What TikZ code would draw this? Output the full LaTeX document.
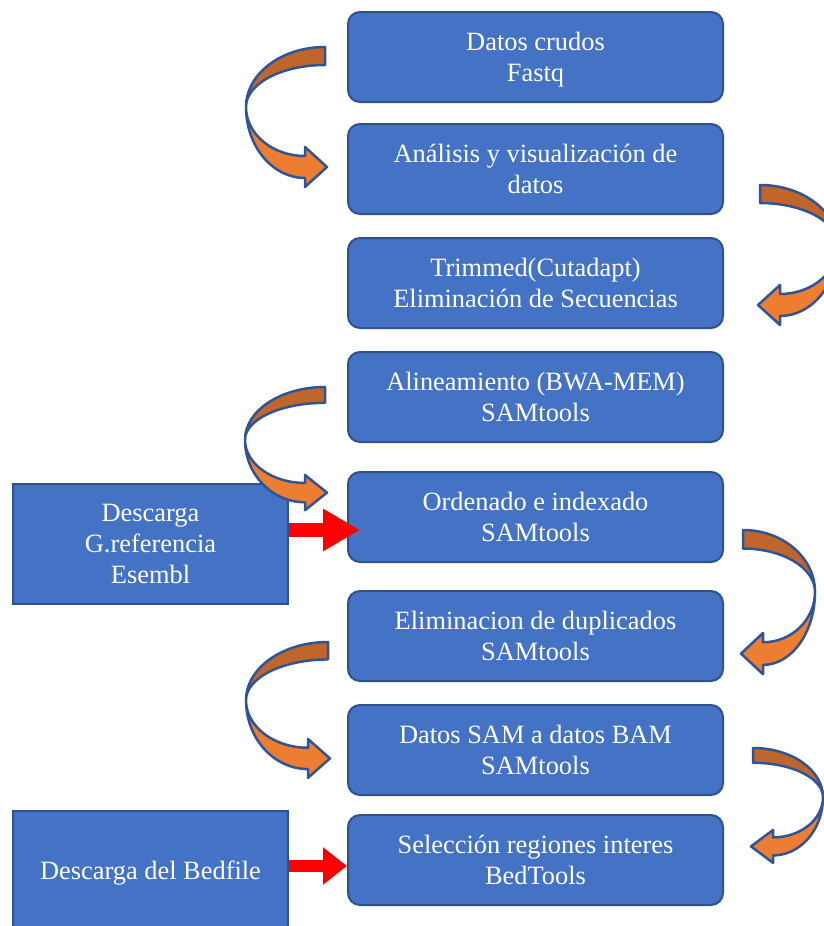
\documentclass[tikz,border=0pt]{standalone}
\usepackage{fontspec}
\setmainfont{Liberation Serif}
\usetikzlibrary{arrows.meta,calc,positioning}

\definecolor{boxblue}{HTML}{4472C4}
\definecolor{boxline}{HTML}{2F528F}
\definecolor{bendlight}{HTML}{ED7D31}
\definecolor{benddark}{HTML}{C0662B}
\definecolor{bendline}{HTML}{2F5597}

% struts so every box text sits the same way
\newcommand{\tstrut}{\rule{0pt}{11.8pt}}
\newcommand{\bstrut}{\rule[-2.85pt]{0pt}{2.85pt}}

% curved block arrow: tail x, tail y, direction (1 left, -1 right), width, yscale
\newcommand{\bendarrow}[5]{%
  \begin{scope}[shift={(#1,#2)}, xscale=#3, yscale=#5, draw=bendline, line width=1.25pt, line join=round]
    \filldraw[fill=bendlight] (-#4,60) arc[start angle=180, end angle=90, x radius=#4-20, y radius=71]
      -- (-20,140) -- (2,120) -- (-20,100) -- (-20,109)
      arc[start angle=90, end angle=180, x radius=#4-20, y radius=49] -- cycle;
    \filldraw[fill=benddark] (0,0) arc[start angle=270, end angle=180, x radius=#4, y radius=60]
      arc[start angle=180, end angle=270, x radius=#4, y radius=42] -- cycle;
  \end{scope}}

\begin{document}
\begin{tikzpicture}[
  x=0.5pt, y=-0.5pt,
  font=\fontsize{13.2}{15.5}\selectfont,
  stepbox/.style={draw=boxline, fill=boxblue, line width=1pt, rounded corners=6pt, text=white, align=center, minimum width=187.5pt, minimum height=45pt, inner sep=0pt},
  srcbox/.style={draw=boxline, fill=boxblue, line width=1pt, text=white, align=center, minimum width=137.5pt, minimum height=60pt, inner sep=0pt},
  redarrow/.style={draw=red, line width=7pt, -{Triangle[length=18.5pt, width=20pt]}}]

\useasboundingbox (0,0) rectangle (824,926);

\foreach \y/\txt [count=\i] in {
  57/{Datos crudos\\Fastq},
  169/{Análisis y visualización de\\datos},
  283/{Trimmed(Cutadapt)\\Eliminación de Secuencias},
  397/{Alineamiento (BWA-MEM)\\SAMtools},
  517/{Ordenado e indexado\\SAMtools},
  636/{Eliminacion de duplicados\\SAMtools},
  750/{Datos SAM a datos BAM\\SAMtools},
  860/{Selección regiones interes\\BedTools}} {
  \node[stepbox] (b\i) at (535.5,\y) {\tstrut\txt\bstrut};
}

\node[srcbox] (ref) at (150.5,544) {\tstrut Descarga\\G.referencia\\Esembl\bstrut};
\node[srcbox] (bed) at (150.5,871) {\tstrut Descarga del Bedfile\bstrut};

\bendarrow{325}{47}{1}{79}{1}
\bendarrow{760}{185}{-1}{78}{1}
\bendarrow{325}{387}{1}{80}{0.88}
\bendarrow{743}{530}{-1}{72}{1.03}
\bendarrow{328}{642}{1}{82}{0.97}
\bendarrow{753}{748}{-1}{70}{0.82}

\path (ref.east) ++(0,-14) coordinate (r1);
\path (r1 -| b5.west) ++(13,0) coordinate (r2);
\draw[redarrow] (r1) -- (r2);

\path (bed.east) ++(0,-5) coordinate (r3);
\coordinate (r4) at (r3 -| b8.west);
\draw[redarrow, line width=6pt, -{Triangle[length=12pt, width=18pt]}] (r3) -- (r4);

\end{tikzpicture}
\end{document}
